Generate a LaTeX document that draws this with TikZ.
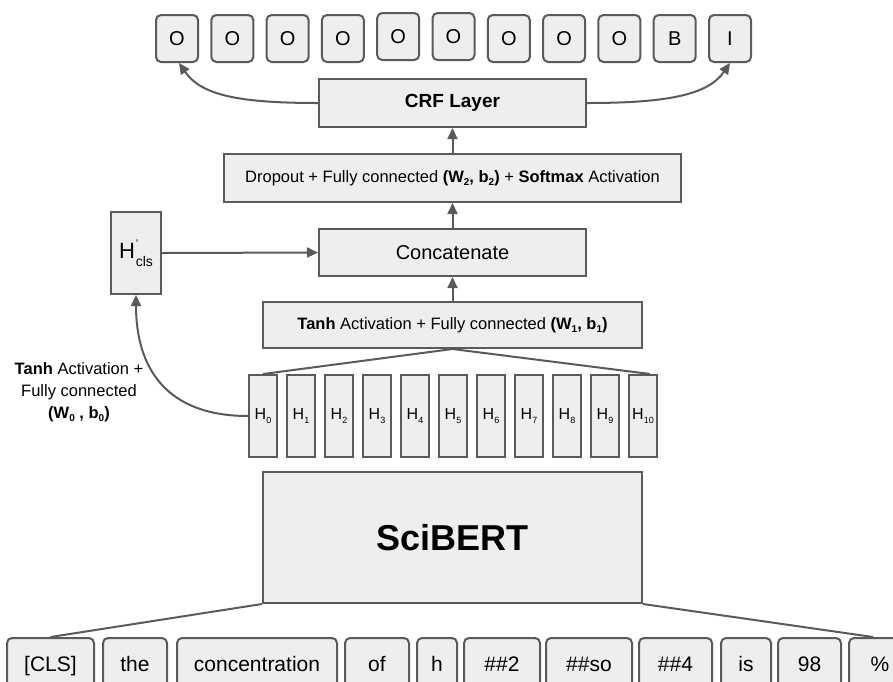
\documentclass[tikz,border=0pt]{standalone}
\usepackage{fontspec}
\setmainfont{Liberation Sans}
\usetikzlibrary{arrows.meta}
\definecolor{boxfill}{HTML}{EEEEEE}
\definecolor{boxline}{HTML}{5A5A5A}
\newcommand{\lowsub}[1]{\raisebox{-3.5pt}{\fontsize{10}{10}\selectfont #1}}
\begin{document}
\begin{tikzpicture}[x=1pt,y=-1pt,
  box/.style={draw=boxline, fill=boxfill, line width=2pt, inner sep=0pt, anchor=center},
  tagbox/.style={box, rounded corners=5pt, minimum width=42pt, minimum height=47pt,
     font=\fontsize{20}{20}\selectfont, text height=14.5pt, text depth=0pt},
  tokbox/.style={box, rounded corners=5pt, minimum height=52pt,
     font=\fontsize{21}{21}\selectfont, text height=15pt, text depth=0pt},
  hbox/.style={box, minimum width=28pt, minimum height=82pt, font=\fontsize{16}{16}\selectfont},
  midtxt/.style={font=\fontsize{16.5}{16.5}\selectfont},
  conn/.style={draw=boxline, line width=2pt},
  arr/.style={conn, -{Triangle[length=11pt,width=10pt]}},
]
\useasboundingbox (0,0) rectangle (893,681);
\clip (0,0) rectangle (893,681);

% output tags
\foreach \t/\yy [count=\i from 0] in {O/38.5,O/38.5,O/38.5,O/38.5,O/36.5,O/36.5,O/38.5,O/38.5,O/38.5,B/38.5,I/38.5}
  \node[tagbox] (t\i) at ({177+55.3*\i},\yy) {\t};

% main column
\node[box, minimum width=267pt, minimum height=48pt, font=\fontsize{19}{19}\selectfont\bfseries] (crf) at (452.5,103) {CRF Layer};
\node[box, minimum width=457pt, minimum height=48pt, midtxt] (drop) at (452.5,178)
  {Dropout + Fully connected \textbf{(W\lowsub{2}, b\lowsub{2})} + \textbf{Softmax} Activation};
\node[box, minimum width=267pt, minimum height=47pt, font=\fontsize{20}{20}\selectfont] (cat) at (452.5,252.5) {Concatenate};
\node[box, minimum width=379pt, minimum height=46pt, midtxt] (tanh) at (452.5,325)
  {\textbf{Tanh} Activation + Fully connected \textbf{(W\lowsub{1}, b\lowsub{1})}};
\node[box, minimum width=50pt, minimum height=82pt] (hcls) at (136,253)
  {{\fontsize{22}{22}\selectfont H}\kern1pt\rlap{\raisebox{11pt}{\fontsize{11}{11}\selectfont\textquoteright}}\raisebox{-8pt}{\fontsize{14}{14}\selectfont cls}};

% hidden states
\foreach \i in {0,...,10}
  \node[hbox] (h\i) at ({263+38*\i},416) {H\raisebox{-4.5pt}{\fontsize{9}{9}\selectfont\i}};

\node[box, minimum width=379pt, minimum height=131pt, font=\fontsize{36}{36}\selectfont\bfseries] (bert) at (452.5,537.5) {SciBERT};

% tokens
\node[tokbox, minimum width=87pt] (k0) at (50.5,664) {[CLS]};
\node[tokbox, minimum width=64pt] (k1) at (135,664) {the};
\node[tokbox, minimum width=160pt] (k2) at (257,664) {concentration};
\node[tokbox, minimum width=64pt] (k3) at (377,664) {of};
\node[tokbox, minimum width=40pt] (k4) at (437,664) {h};
\node[tokbox, minimum width=76pt] (k5) at (502,664) {\#\#2};
\node[tokbox, minimum width=86pt] (k6) at (589,664) {\#\#so};
\node[tokbox, minimum width=73pt] (k7) at (675.5,664) {\#\#4};
\node[tokbox, minimum width=50pt] (k8) at (746,664) {is};
\node[tokbox, minimum width=63pt] (k9) at (809.5,664) {98};
\node[tokbox, minimum width=62pt] (k10) at (880,664) {\%};

% left label
\node[align=center, font=\fontsize{16.5}{22}\selectfont] (lbl) at (79,392)
  {\textbf{Tanh} Activation +\\Fully connected\\\textbf{(W\lowsub{0} , b\lowsub{0})}};

% connectors
\draw[conn] (bert.south west) -- (k0.north);
\draw[conn] (bert.south east) -- ([xshift=-7pt]k10.north);
\draw[conn] (tanh.south) -- (h0.north);
\draw[conn] (tanh.south) -- ([xshift=7pt]h10.north);
\draw[arr] (tanh.north) -- (cat.south);
\draw[arr] (cat.north) -- (drop.south);
\draw[arr] (drop.north) -- (crf.south);
\draw[arr] (hcls.east) -- (cat.west);
\draw[arr] (h0.west) .. controls +(-80,0) and +(0,75) .. (hcls.south);
\draw[arr] (crf.west) .. controls +(-80,0) and +(22,32) .. ([xshift=2pt]t0.south);
\draw[arr] (crf.east) .. controls +(80,0) and +(-22,32) .. (t10.south);
\end{tikzpicture}
\end{document}
